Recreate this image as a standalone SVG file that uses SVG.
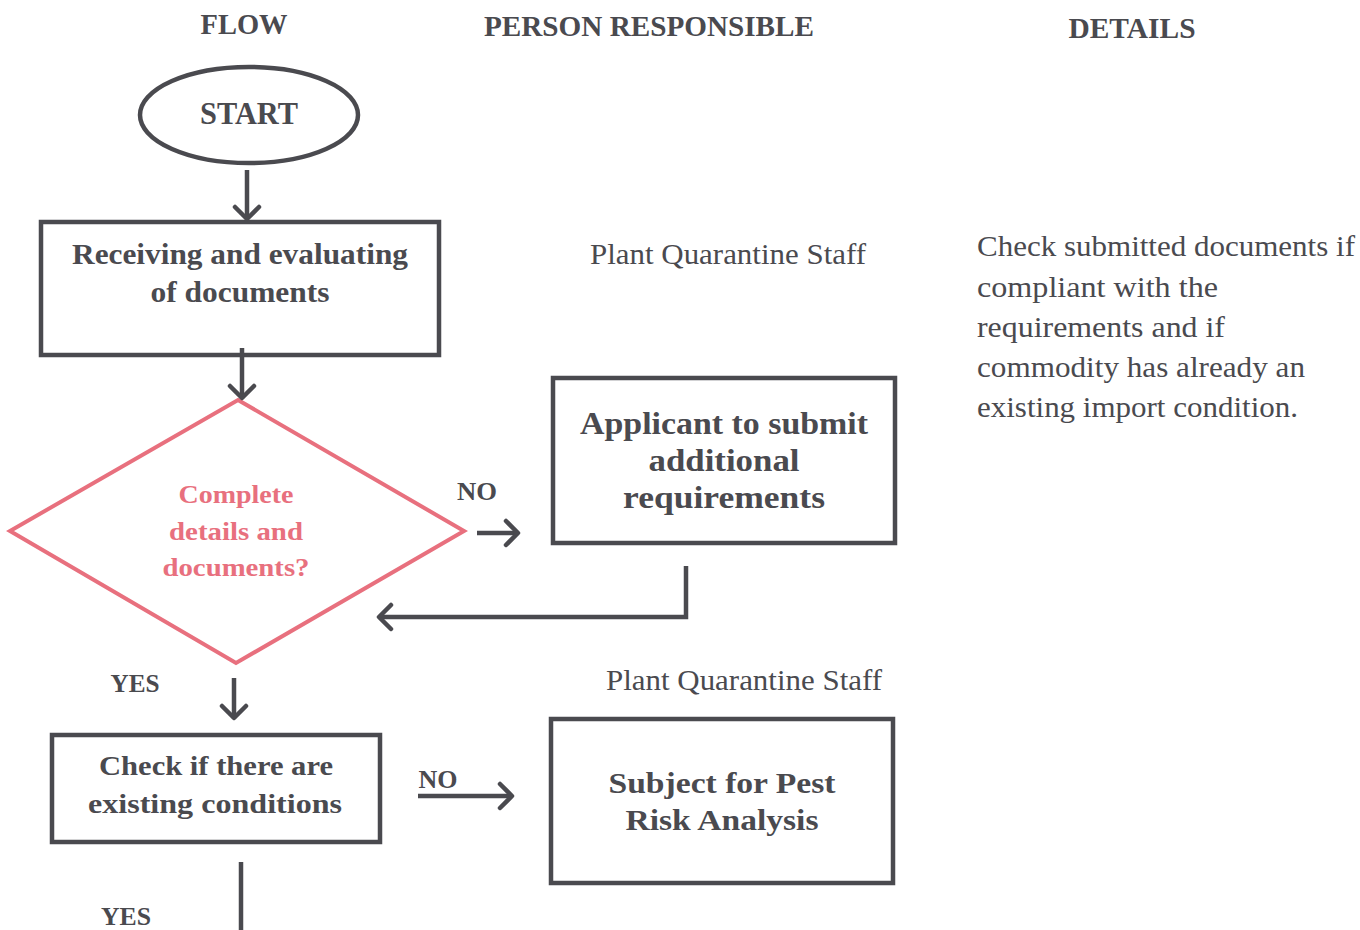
<svg xmlns="http://www.w3.org/2000/svg" width="1360" height="930" viewBox="0 0 1360 930">
<style>
text{font-family:"Liberation Serif","DejaVu Serif",serif;fill:#4a4a4f}
.h{font-weight:bold;font-size:30px;text-anchor:middle}
.b{font-weight:bold;text-anchor:middle}
.r{font-size:29px}
.p{fill:#e8707e}
.box{fill:none;stroke:#4a4a4f;stroke-width:4.5}
.con{fill:none;stroke:#4a4a4f;stroke-width:4.5}
</style>
<defs>
<marker id="ah" markerUnits="userSpaceOnUse" viewBox="0 0 30 30" markerWidth="30" markerHeight="30" refX="26" refY="15" orient="auto">
<path d="M14,3 L26,15 L14,27" fill="none" stroke="#4a4a4f" stroke-width="4.5" stroke-linecap="round" stroke-linejoin="round"/>
</marker>
</defs>
<rect width="1360" height="930" fill="#ffffff"/>
<g id="headers">
<text class="h" x="244" y="34" textLength="87" lengthAdjust="spacingAndGlyphs">FLOW</text>
<text class="h" x="649" y="36" textLength="330" lengthAdjust="spacingAndGlyphs">PERSON RESPONSIBLE</text>
<text class="h" x="1132" y="38" textLength="127" lengthAdjust="spacingAndGlyphs">DETAILS</text>
</g>
<g id="start">
<ellipse cx="249" cy="115" rx="109" ry="48" class="box"/>
<text class="b" x="249" y="124" font-size="32" textLength="98" lengthAdjust="spacingAndGlyphs">START</text>
</g>
<g id="receive">
<rect x="41" y="222" width="398" height="133" class="box"/>
<text class="b" x="240" y="264" font-size="29" textLength="336" lengthAdjust="spacingAndGlyphs">Receiving and evaluating</text>
<text class="b" x="240" y="302" font-size="29" textLength="179" lengthAdjust="spacingAndGlyphs">of documents</text>
</g>
<g id="decision">
<polygon points="238,400 464,531 236,663 10,531" fill="none" stroke="#e8707e" stroke-width="4"/>
<text class="b p" x="236" y="503" font-size="26" textLength="115" lengthAdjust="spacingAndGlyphs">Complete</text>
<text class="b p" x="236" y="540" font-size="26" textLength="134" lengthAdjust="spacingAndGlyphs">details and</text>
<text class="b p" x="236" y="576" font-size="26" textLength="147" lengthAdjust="spacingAndGlyphs">documents?</text>
</g>
<g id="applicant">
<rect x="553" y="378" width="342" height="165" class="box"/>
<text class="b" x="724" y="434" font-size="31" textLength="288" lengthAdjust="spacingAndGlyphs">Applicant to submit</text>
<text class="b" x="724" y="471" font-size="31" textLength="151" lengthAdjust="spacingAndGlyphs">additional</text>
<text class="b" x="724" y="508" font-size="31" textLength="202" lengthAdjust="spacingAndGlyphs">requirements</text>
</g>
<g id="check">
<rect x="52" y="735" width="328" height="107" class="box"/>
<text class="b" x="216" y="775" font-size="28" textLength="234" lengthAdjust="spacingAndGlyphs">Check if there are</text>
<text class="b" x="215" y="813" font-size="28" textLength="254" lengthAdjust="spacingAndGlyphs">existing conditions</text>
</g>
<g id="pra">
<rect x="551" y="719" width="342" height="164" class="box"/>
<text class="b" x="722" y="793" font-size="30" textLength="227" lengthAdjust="spacingAndGlyphs">Subject for Pest</text>
<text class="b" x="722" y="830" font-size="30" textLength="193" lengthAdjust="spacingAndGlyphs">Risk Analysis</text>
</g>
<g id="persons">
<text class="r" x="590" y="264" textLength="276" lengthAdjust="spacingAndGlyphs">Plant Quarantine Staff</text>
<text class="r" x="606" y="690" textLength="276" lengthAdjust="spacingAndGlyphs">Plant Quarantine Staff</text>
</g>
<g id="details">
<text class="r" x="977" y="256" textLength="378" lengthAdjust="spacingAndGlyphs">Check submitted documents if</text>
<text class="r" x="977" y="297" textLength="241" lengthAdjust="spacingAndGlyphs">compliant with the</text>
<text class="r" x="977" y="337" textLength="248" lengthAdjust="spacingAndGlyphs">requirements and if</text>
<text class="r" x="977" y="377" textLength="328" lengthAdjust="spacingAndGlyphs">commodity has already an</text>
<text class="r" x="977" y="417" textLength="321" lengthAdjust="spacingAndGlyphs">existing import condition.</text>
</g>
<g id="labels">
<text class="b" x="477" y="500" font-size="25" textLength="40" lengthAdjust="spacingAndGlyphs">NO</text>
<text class="b" x="135" y="692" font-size="25" textLength="49" lengthAdjust="spacingAndGlyphs">YES</text>
<text class="b" x="438" y="788" font-size="25" textLength="39" lengthAdjust="spacingAndGlyphs">NO</text>
<text class="b" x="126" y="925" font-size="25" textLength="50" lengthAdjust="spacingAndGlyphs">YES</text>
</g>
<g id="connectors">
<line x1="247" y1="170" x2="247" y2="219" class="con" marker-end="url(#ah)"/>
<line x1="242" y1="348" x2="242" y2="398" class="con" marker-end="url(#ah)"/>
<line x1="477" y1="533" x2="518" y2="533" class="con" marker-end="url(#ah)"/>
<polyline points="686,566 686,617 379,617" class="con" marker-end="url(#ah)"/>
<line x1="234" y1="678" x2="234" y2="718" class="con" marker-end="url(#ah)"/>
<line x1="418" y1="796" x2="512" y2="796" class="con" marker-end="url(#ah)"/>
<line x1="241" y1="862" x2="241" y2="930" class="con"/>
</g>
</svg>
